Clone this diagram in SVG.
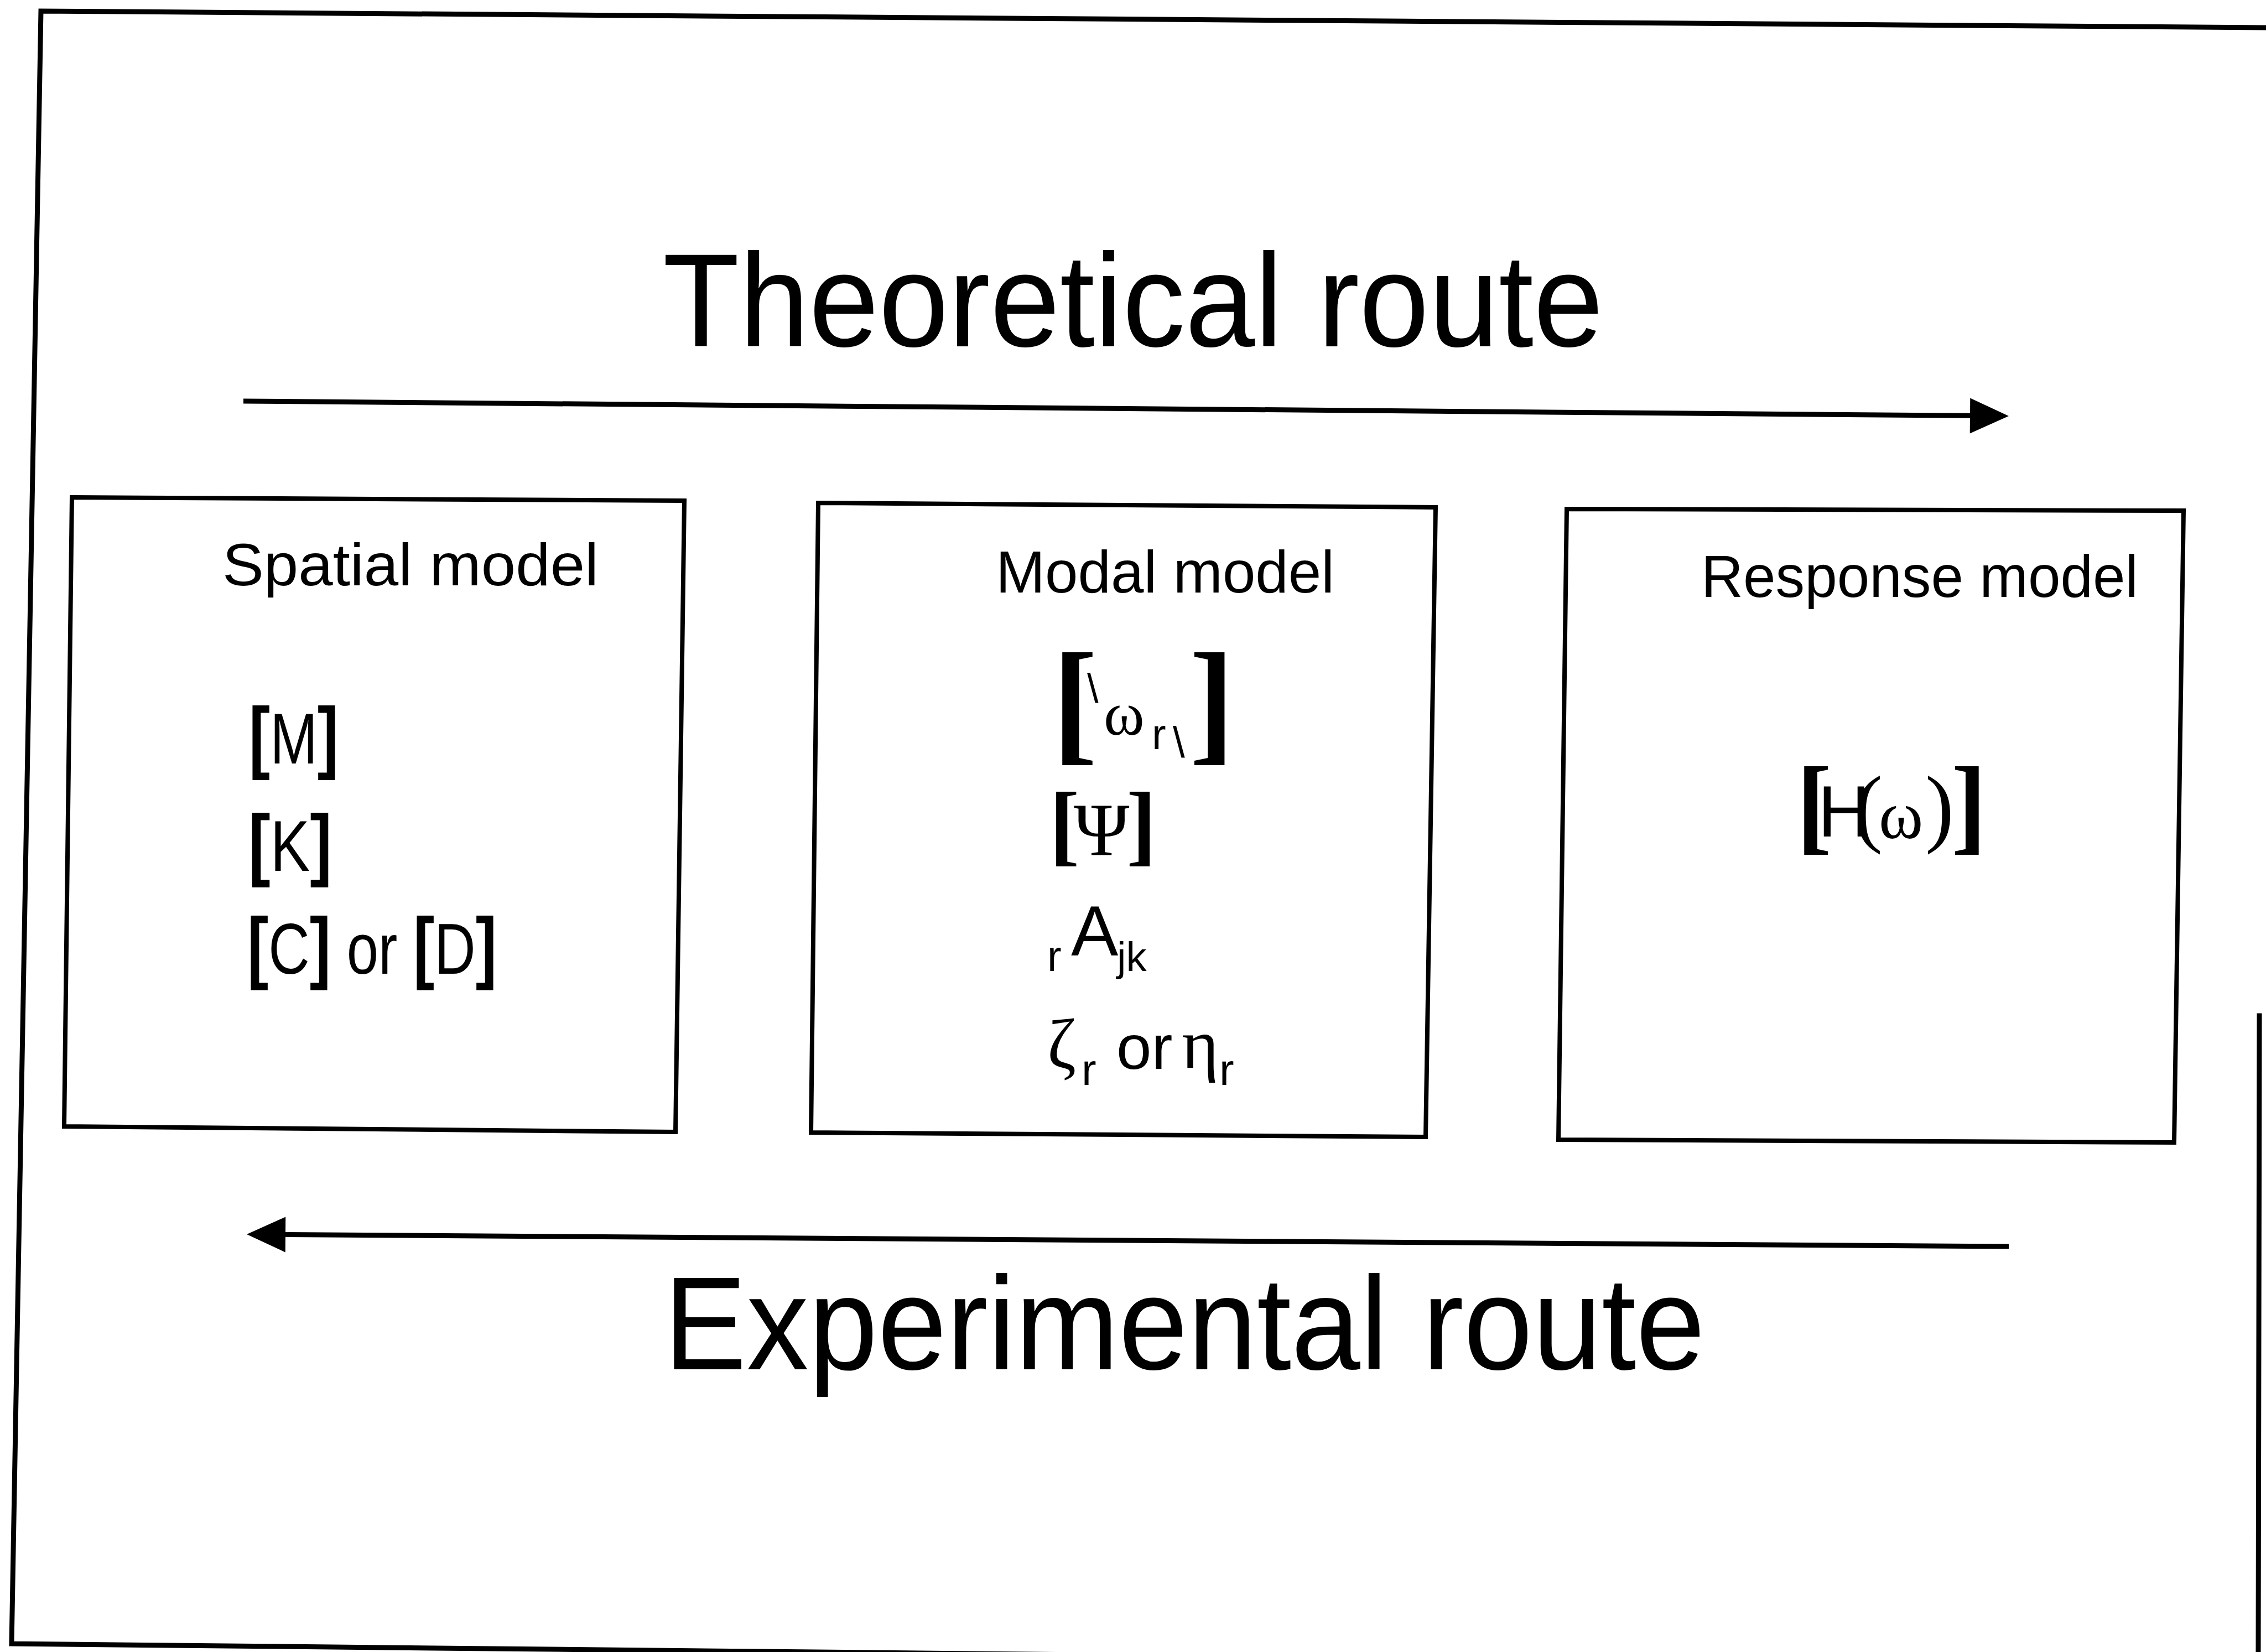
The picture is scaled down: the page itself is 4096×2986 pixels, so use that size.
<svg xmlns="http://www.w3.org/2000/svg" width="4096" height="2986" viewBox="0 0 4096 2986">
<style>
.frame{fill:none;stroke:#000;stroke-width:9;stroke-linecap:square}
.box{fill:#fff;stroke:#000;stroke-width:8;stroke-linejoin:miter}
.conn{fill:none;stroke:#000;stroke-width:9}
.route{font-family:"Liberation Sans",Arial,sans-serif;font-size:240px;fill:#000}
.title{font-family:"Liberation Sans",Arial,sans-serif;font-size:108px;fill:#000}
.ss{font-family:"Liberation Sans",Arial,sans-serif;fill:#000}
.sf{font-family:"Liberation Serif","Times New Roman",serif;fill:#000}
.b{font-weight:bold}
</style>
<defs>
<marker id="head" markerUnits="userSpaceOnUse" markerWidth="72" markerHeight="66" refX="0" refY="32" orient="auto" overflow="visible">
<path d="M0,0 L70,32 L0,64 Z" fill="#000"/>
</marker>
</defs>
<rect x="0" y="0" width="4096" height="2986" fill="#fff"/>
<g id="frame">
<path class="frame" d="M4110,50 L74,20 L21,2971 L2150,2993"/>
<path class="frame" d="M4084,1836 L4082,2990"/>
</g>
<g id="labels">
<text class="route" x="1198" y="626" textLength="1700" lengthAdjust="spacingAndGlyphs">Theoretical route</text>
<text class="route" x="1200" y="2475" font-size="230" textLength="1882" lengthAdjust="spacingAndGlyphs">Experimental route</text>
</g>
<g id="connectors">
<line class="conn" x1="440" y1="725" x2="3561" y2="751.4" marker-end="url(#head)"/>
<line class="conn" x1="3631" y1="2253" x2="516" y2="2231.5" marker-end="url(#head)"/>
</g>
<g id="spatial-model">
<polygon class="box" points="130,899 1237,905 1221,2046 116,2036"/>
<text class="title" x="402" y="1058" textLength="680" lengthAdjust="spacingAndGlyphs">Spatial model</text>
<text class="ss" x="450" y="1380" font-size="130" textLength="162" lengthAdjust="spacingAndGlyphs"><tspan class="b" font-size="145">[</tspan>M<tspan class="b" font-size="145">]</tspan></text>
<text class="ss" x="449" y="1574" font-size="130" textLength="151" lengthAdjust="spacingAndGlyphs"><tspan class="b" font-size="145">[</tspan>K<tspan class="b" font-size="145">]</tspan></text>
<text class="ss" x="447" y="1760" font-size="130" textLength="451" lengthAdjust="spacingAndGlyphs"><tspan class="b" font-size="145">[</tspan>C<tspan class="b" font-size="145">]</tspan> or <tspan class="b" font-size="145">[</tspan>D<tspan class="b" font-size="145">]</tspan></text>
</g>
<g id="modal-model">
<polygon class="box" points="1479,909 2595,917 2577,2055 1466,2047"/>
<text class="title" x="1800" y="1071" textLength="612" lengthAdjust="spacingAndGlyphs">Modal model</text>
<text><tspan class="sf b" x="1902" y="1350" font-size="245">[</tspan><tspan class="ss" x="1965" y="1270" font-size="74">\</tspan><tspan class="sf" x="1995" y="1328" font-size="112">ω</tspan><tspan class="ss" x="2082" y="1354" font-size="77">r</tspan><tspan class="ss" x="2120" y="1369" font-size="78">\</tspan><tspan class="sf b" x="2150" y="1350" font-size="245">]</tspan></text>
<text><tspan class="sf b" x="1897" y="1544" font-size="163">[</tspan><tspan class="sf" x="1941" y="1546" font-size="136">Ψ</tspan><tspan class="sf b" x="2036" y="1544" font-size="163">]</tspan></text>
<text><tspan class="ss" x="1893" y="1755" font-size="77">r</tspan><tspan class="ss" x="1936" y="1727" font-size="128">A</tspan><tspan class="ss" x="2019" y="1755" font-size="74">jk</tspan></text>
<text><tspan class="sf" x="1893" y="1930" font-size="126">ζ</tspan><tspan class="ss" x="1955" y="1961" font-size="80">r</tspan><tspan class="ss" x="2018" y="1932" font-size="114">or</tspan><tspan class="sf" x="2136" y="1930" font-size="128">η</tspan><tspan class="ss" x="2204" y="1961" font-size="80">r</tspan></text>
</g>
<g id="response-model">
<polygon class="box" points="2832,920 3947,923 3930,2065 2817,2060"/>
<text class="title" x="3075" y="1079" textLength="790" lengthAdjust="spacingAndGlyphs">Response model</text>
<text><tspan class="sf b" x="3247" y="1519" font-size="192">[</tspan><tspan class="ss" x="3286" y="1512" font-size="131">H</tspan><tspan class="sf" x="3351" y="1511" font-size="156">(</tspan><tspan class="sf" x="3396" y="1515" font-size="122">ω</tspan><tspan class="sf" x="3480" y="1511" font-size="156">)</tspan><tspan class="sf b" x="3527" y="1519" font-size="192">]</tspan></text>
</g>
</svg>
